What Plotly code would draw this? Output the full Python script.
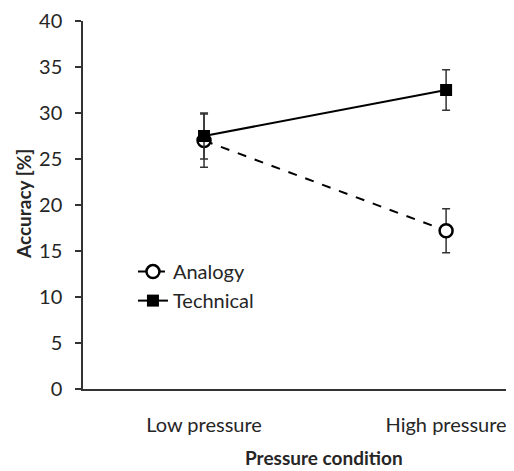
import plotly.graph_objects as go

categories = ["Low pressure", "High pressure"]
analogy = [27.0, 17.2]
analogy_err = [2.9, 2.4]
technical = [27.5, 32.5]
technical_err = [2.5, 2.2]
y_ticks = [0, 5, 10, 15, 20, 25, 30, 35, 40]
x_title = "Pressure condition"
y_title = "Accuracy [%]"

xpos = list(range(len(categories)))
FONT = "Lato"
fig = go.Figure()
fig.add_trace(go.Scatter(
    x=xpos, y=analogy, name="Analogy", mode="lines+markers",
    line=dict(color="black", width=2, dash="dash"),
    marker=dict(symbol="circle", size=13, color="white", line=dict(color="black", width=2.5)),
    error_y=dict(type="data", array=analogy_err, color="#333333", thickness=1.5, width=4),
))
fig.add_trace(go.Scatter(
    x=xpos, y=technical, name="Technical", mode="lines+markers",
    line=dict(color="black", width=2),
    marker=dict(symbol="square", size=12, color="black"),
    error_y=dict(type="data", array=technical_err, color="#333333", thickness=1.5, width=4),
))
# page body has an 8px margin, so the figure is 8px smaller and shifted
fig.update_layout(
    width=506, height=463,
    margin=dict(l=75, r=4, t=13, b=82, autoexpand=False),
    plot_bgcolor="white", paper_bgcolor="white",
    font=dict(family=FONT, size=20, color="#262626"),
    showlegend=True,
    legend=dict(x=0.117, y=0.372, xanchor="left", yanchor="top", bgcolor="rgba(0,0,0,0)",
                font=dict(size=20), itemwidth=30, tracegroupgap=0),
    xaxis=dict(range=[-0.5, 1.264], tickmode="array", tickvals=xpos, ticktext=categories,
               showline=True, linecolor="#333333", linewidth=1.5, showgrid=False, zeroline=False,
               ticks="", ticklabelstandoff=17, automargin=False),
    yaxis=dict(range=[0, 40], tickmode="array", tickvals=y_ticks,
               showline=True, linecolor="#333333", linewidth=1.5, showgrid=False, zeroline=False,
               ticks="outside", ticklen=6, tickcolor="#333333", tickwidth=1.5,
               ticklabelstandoff=9, automargin=False),
    annotations=[
        dict(text="<b>" + x_title + "</b>", xref="paper", yref="paper",
             x=(324 - 83) / 427, y=-(457 - 389) / 368, xanchor="center", yanchor="middle",
             showarrow=False, font=dict(size=19)),
        dict(text="<b>" + y_title + "</b>", xref="paper", yref="paper",
             x=-(83 - 23) / 427, y=(389 - 204) / 368, xanchor="center", yanchor="middle",
             textangle=-90, showarrow=False, font=dict(size=19)),
    ],
)
fig.write_html("out.html")
